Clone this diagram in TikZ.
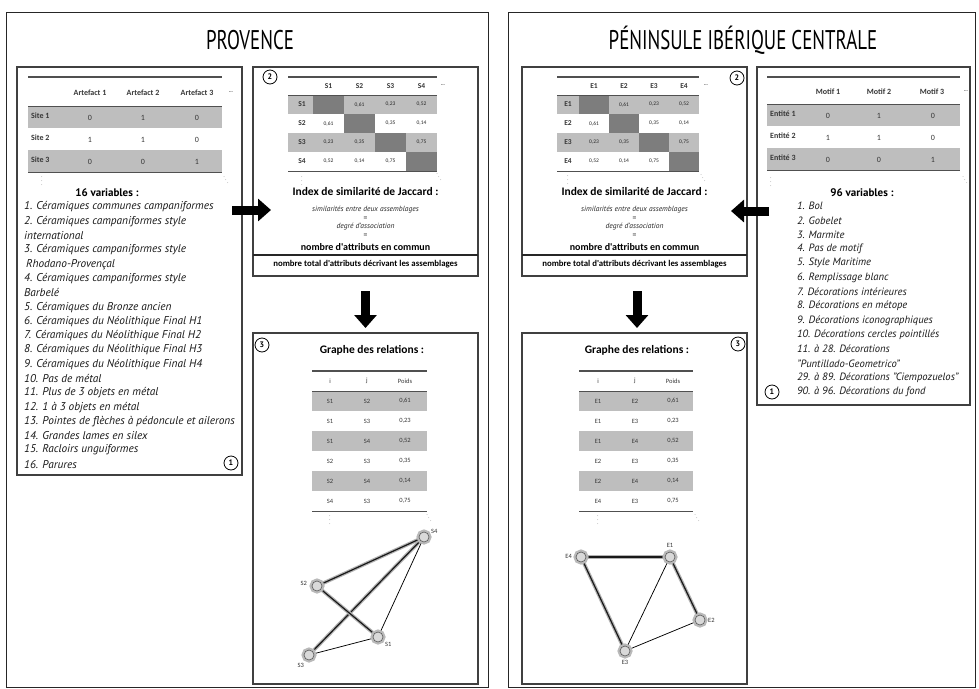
\documentclass[tikz,border=0pt]{standalone}
\usepackage{fontspec}
\usepackage{graphicx}
\setmainfont{PT Sans}
\newfontfamily\calfont{Carlito}
\usetikzlibrary{arrows.meta}
\pgfdeclarelayer{bg}
\pgfsetlayers{bg,main}
\definecolor{rowgray}{RGB}{190,190,190}
\definecolor{cellgray}{RGB}{125,125,125}
\definecolor{txtgray}{RGB}{55,55,55}
\definecolor{rulegray}{RGB}{80,80,80}
\begin{document}
\begin{tikzpicture}[x=1pt,y=-1pt,
  frame/.style={draw=black!85, line width=0.9pt},
  box/.style={draw=black!75, line width=1.3pt},
  num/.style={circle, draw=black, line width=0.8pt, minimum size=14pt, inner sep=0pt, font=\bfseries\fontsize{8}{8}\selectfont},
  title/.style={font=\fontsize{27}{27}\selectfont, inner sep=0pt},
  rulethick/.style={draw=rulegray, line width=1.4pt},
  rulethin/.style={draw=rulegray, line width=0.9pt},
  hdr/.style={font=\calfont\bfseries\fontsize{8}{9}\selectfont, text=txtgray, inner sep=0pt},
  cell/.style={font=\calfont\fontsize{8}{9}\selectfont, text=txtgray, inner sep=0pt},
  mlab/.style={font=\calfont\bfseries\fontsize{7.5}{8}\selectfont, text=txtgray, inner sep=0pt},
  mcell/.style={font=\calfont\fontsize{5.5}{6}\selectfont, text=black!85, inner sep=0pt},
  gcell/.style={font=\calfont\fontsize{6.5}{7}\selectfont, text=txtgray, inner sep=0pt},
  dots/.style={font=\fontsize{5}{5}\selectfont, text=txtgray, inner sep=0pt},
  lstl/.style={anchor=west, font=\itshape\fontsize{11.3}{12}\selectfont, text=black!90, inner sep=0pt},
  lstr/.style={anchor=west, font=\itshape\fontsize{10.6}{12}\selectfont, text=black!90, inner sep=0pt},
  head/.style={font=\bfseries\fontsize{11}{12}\selectfont, inner sep=0pt},
  jac/.style={font=\calfont\bfseries\fontsize{11.5}{12}\selectfont, inner sep=0pt},
  jit/.style={font=\itshape\fontsize{7.5}{8}\selectfont, text=black!85, inner sep=0pt},
  jeq/.style={font=\fontsize{7.5}{8}\selectfont, text=black!85, inner sep=0pt},
  jnum/.style={font=\calfont\bfseries\fontsize{10}{11}\selectfont, inner sep=0pt},
  jden/.style={font=\calfont\bfseries\fontsize{8.8}{10}\selectfont, inner sep=0pt},
  gtitle/.style={font=\calfont\bfseries\fontsize{11.5}{12}\selectfont, inner sep=0pt},
  bigarrow/.style={line width=9pt, -{Triangle[length=13pt,width=22pt]}},
  gnode/.style={circle, minimum size=10pt, inner sep=0pt, fill=gray!30, draw=black!65, line width=0.6pt, preaction={draw=gray!55, line width=5pt}},
  strong/.style={draw=gray!60, line width=3.6pt, postaction={draw=black!90, line width=1.2pt}},
  weak/.style={draw=black, line width=0.75pt},
  glab/.style={font=\calfont\fontsize{6.5}{7}\selectfont, text=black!80, inner sep=1pt}
]
\useasboundingbox (0,0) rectangle (979,688);
\begin{pgfonlayer}{bg}
\fill[white] (0,0) rectangle (979,688);
\end{pgfonlayer}

% ---------- outer frames and titles ----------
\draw[frame] (6,12) rectangle (488,687.5);
\draw[frame] (508,12) rectangle (975,687.5);
\node[title] (t1) at (250,40) {\scalebox{0.7}[1]{PROVENCE}};
\node[title] (t2) at (743,40) {\scalebox{0.7}[1]{PÉNINSULE IBÉRIQUE CENTRALE}};

% ---------- boxes ----------
\draw[box] (17,67) rectangle (242,475);
\draw[box] (253,67) rectangle (478,276);
\draw[box] (253,333) rectangle (478,684);
\draw[box] (522,67) rectangle (747,276);
\draw[box] (522,333) rectangle (747,684);
\draw[box] (757,67) rectangle (970,405);

\node[num] (n1l) at (231,463) {1};
\node[num] (n2l) at (270,77) {2};
\node[num] (n3l) at (262,345) {3};
\node[num] (n2r) at (737,78) {2};
\node[num] (n3r) at (738,344) {3};
\node[num] (n1r) at (772,392) {1};

% ---------- Table 1 left (Artefact) ----------
\fill[rowgray] (28,106) rectangle (222,128);
\fill[rowgray] (28,150) rectangle (222,172);
\draw[rulethick] (28,77) -- (222,77);
\draw[rulethin] (28,106) -- (222,106);
\draw[rulethin] (28,172) -- (222,172);
\node[hdr] (la1) at (90,93) {Artefact 1};
\node[hdr] (la2) at (143,93) {Artefact 2};
\node[hdr] (la3) at (197,93) {Artefact 3};
\node[dots] (lad) at (231,93) {\textbf{···}};
\foreach \lab/\a/\b/\c/\yy [count=\k] in {Site 1/0/1/0/117, Site 2/1/1/0/139, Site 3/0/0/1/161}{
  \node[hdr, anchor=west] (lsl\k) at (31,\yy-1) {\lab};
  \node[cell] (lsa\k) at (90,\yy+1) {\a};
  \node[cell] (lsb\k) at (143,\yy+1) {\b};
  \node[cell] (lsc\k) at (197,\yy+1) {\c};
}
\node[dots] (lvd) at (42,178) {$\vdots$};
\node[dots] (ldd) at (226,177) {$\ddots$};

% ---------- list left ----------
\node[head] (lh) at (107,193) {16 variables :};
\foreach \t [count=\i] in {
 {1. Céramiques communes campaniformes},
 {2. Céramiques campaniformes style},
 {international},
 {3. Céramiques campaniformes style},
 {\hspace*{2pt}Rhodano-Provençal},
 {4. Céramiques campaniformes style},
 {Barbelé},
 {5. Céramiques du Bronze ancien},
 {6. Céramiques du Néolithique Final H1},
 {7. Céramiques du Néolithique Final H2},
 {8. Céramiques du Néolithique Final H3},
 {9. Céramiques du Néolithique Final H4},
 {10. Pas de métal},
 {11. Plus de 3 objets en métal},
 {12. 1 à 3 objets en métal},
 {13. Pointes de flèches à pédoncule et ailerons},
 {14. Grandes lames en silex},
 {15. Racloirs unguiformes},
 {16. Parures}}
 \node[lstl] (ll\i) at (24,{207+14.3*(\i-1)}) {\t};

% ---------- Matrix left ----------
\fill[rowgray] (288,95) rectangle (437,114);
\fill[rowgray] (288,133) rectangle (437,152);
\fill[cellgray] (313,95) rectangle (344,114);
\fill[cellgray] (344,114) rectangle (375,133);
\fill[cellgray] (375,133) rectangle (406,152);
\fill[cellgray] (406,152) rectangle (437,171);
\draw[rulethick] (288,77) -- (437,77);
\draw[rulethin] (288,95) -- (437,95);
\draw[rulethin] (288,171) -- (437,171);
\foreach \t/\cx [count=\k] in {S1/328.5,S2/359.5,S3/390.5,S4/421.5}{
  \node[mlab] (lmh\k) at (\cx,86) {\t};
  \node[mlab] (lmr\k) at (302,{104.5+19*(\k-1)}) {\t};
}
\node[dots] (lmd) at (443,86) {\textbf{···}};
\foreach \cx/\cy/\v [count=\k] in {359.5/104.5/{0,61},390.5/104.5/{0,23},421.5/104.5/{0,52},
 328.5/123.5/{0,61},390.5/123.5/{0,35},421.5/123.5/{0,14},
 328.5/142.5/{0,23},359.5/142.5/{0,35},421.5/142.5/{0,75},
 328.5/161.5/{0,52},359.5/161.5/{0,14},390.5/161.5/{0,75}}
 \node[mcell] (lmv\k) at (\cx,\cy) {\v};
\node[dots] (lmvd) at (302,178) {$\vdots$};
\node[dots] (lmdd) at (439,174) {$\ddots$};

% ---------- Jaccard left ----------
\node[jac] (lj1) at (365.5,192) {Index de similarité de Jaccard :};
\node[jit] (lj2) at (365.5,210) {similarités entre deux assemblages};
\node[jeq] (lj3) at (365.5,219) {=};
\node[jit] (lj4) at (365.5,227) {degré d'association};
\node[jeq] (lj5) at (365.5,236) {=};
\node[jnum] (lj6) at (365.5,247) {nombre d'attributs en commun};
\draw[draw=black!85, line width=1.8pt] (253,255) -- (478,255);
\node[jden] (lj7) at (365.5,264) {nombre total d'attributs décrivant les assemblages};

% ---------- Graph table left ----------
\fill[rowgray] (312,391) rectangle (427,411);
\fill[rowgray] (312,431) rectangle (427,451);
\fill[rowgray] (312,471) rectangle (427,491);
\draw[rulethick] (312,371) -- (427,371);
\draw[rulethin] (312,391) -- (427,391);
\draw[rulethin] (312,511) -- (427,511);
\node[gtitle] (lg) at (372,350) {Graphe des relations :};
\node[gcell] (lgi) at (330,381) {i};
\node[gcell] (lgj) at (367,381) {j};
\node[gcell] (lgp) at (405,381) {Poids};
\foreach \a/\b/\w [count=\k] in {S1/S2/{0,61},S1/S3/{0,23},S1/S4/{0,52},S2/S3/{0,35},S2/S4/{0,14},S4/S3/{0,75}}{
  \node[gcell] (lga\k) at (330,{401+20*(\k-1)}) {\a};
  \node[gcell] (lgb\k) at (367,{401+20*(\k-1)}) {\b};
  \node[gcell] (lgc\k) at (405,{401+20*(\k-1)}) {\w};
}
\node[dots] (lgvd) at (330,517) {$\vdots$};
\node[dots] (lgdd) at (429,515) {$\ddots$};

% ---------- Network left ----------
\node[gnode] (s4) at (424,537) {};
\node[gnode] (s2) at (317,586) {};
\node[gnode] (s1) at (378,637) {};
\node[gnode] (s3) at (309,655) {};
\node[glab, anchor=south west] (ls4) at (430,535) {S4};
\node[glab, anchor=east] (ls2) at (308,583) {S2};
\node[glab, anchor=north west] (ls1) at (384,641) {S1};
\node[glab, anchor=north east] (ls3) at (305,662) {S3};
\begin{pgfonlayer}{bg}
\draw[strong] (s4) -- (s2);
\draw[strong] (s4) -- (s3);
\draw[strong] (s2) -- (s1);
\draw[weak] (s4) -- (s1);
\draw[weak] (s3) -- (s1);
\end{pgfonlayer}

% ---------- Table right (Motif) ----------
\fill[rowgray] (767,104) rectangle (960,126);
\fill[rowgray] (767,148) rectangle (960,170);
\draw[rulethick] (767,77) -- (960,77);
\draw[rulethin] (767,104) -- (960,104);
\draw[rulethin] (767,170) -- (960,170);
\node[hdr] (rm1) at (828,92) {Motif 1};
\node[hdr] (rm2) at (879,92) {Motif 2};
\node[hdr] (rm3) at (932,92) {Motif 3};
\node[dots] (rmd) at (966,92) {\textbf{···}};
\foreach \lab/\a/\b/\c/\yy [count=\k] in {Entité 1/0/1/0/115, Entité 2/1/1/0/137, Entité 3/0/0/1/159}{
  \node[hdr, anchor=west] (rel\k) at (770,\yy-1) {\lab};
  \node[cell] (rea\k) at (828,\yy+1) {\a};
  \node[cell] (reb\k) at (879,\yy+1) {\b};
  \node[cell] (rec\k) at (933,\yy+1) {\c};
}
\node[dots] (rvd) at (771,179) {$\vdots$};
\node[dots] (rdd) at (965,177) {$\ddots$};

% ---------- list right ----------
\node[head] (rh) at (862,193) {96 variables :};
\foreach \t [count=\i] in {
 {1. Bol},
 {2. Gobelet},
 {3. Marmite},
 {4. Pas de motif},
 {5. Style Maritime},
 {6. Remplissage blanc},
 {7. Décorations intérieures},
 {8. Décorations en métope},
 {9. Décorations iconographiques},
 {10. Décorations cercles pointillés},
 {11. à 28. Décorations},
 {"Puntillado-Geometrico"},
 {29. à 89. Décorations "Ciempozuelos"},
 {90. à 96. Décorations du fond}}
 \node[lstr] (rl\i) at (797,{206+14.3*(\i-1)}) {\t};

% ---------- Matrix right ----------
\fill[rowgray] (557,95) rectangle (699,114);
\fill[rowgray] (557,133) rectangle (699,152);
\fill[cellgray] (579,95) rectangle (609,114);
\fill[cellgray] (609,114) rectangle (639,133);
\fill[cellgray] (639,133) rectangle (669,152);
\fill[cellgray] (669,152) rectangle (699,171);
\draw[rulethick] (557,77) -- (699,77);
\draw[rulethin] (557,95) -- (699,95);
\draw[rulethin] (557,171) -- (699,171);
\foreach \t/\cx [count=\k] in {E1/594,E2/624,E3/654,E4/684}{
  \node[mlab] (rmh\k) at (\cx,86) {\t};
  \node[mlab] (rmr\k) at (568,{104.5+19*(\k-1)}) {\t};
}
\node[dots] (rmdd0) at (706,86) {\textbf{···}};
\foreach \cx/\cy/\v [count=\k] in {624/104.5/{0,61},654/104.5/{0,23},684/104.5/{0,52},
 594/123.5/{0,61},654/123.5/{0,35},684/123.5/{0,14},
 594/142.5/{0,23},624/142.5/{0,35},684/142.5/{0,75},
 594/161.5/{0,52},624/161.5/{0,14},654/161.5/{0,75}}
 \node[mcell] (rmv\k) at (\cx,\cy) {\v};
\node[dots] (rmvd) at (568,177) {$\vdots$};
\node[dots] (rmdd) at (703,175) {$\ddots$};

% ---------- Jaccard right ----------
\node[jac] (rj1) at (634.5,192) {Index de similarité de Jaccard :};
\node[jit] (rj2) at (634.5,210) {similarités entre deux assemblages};
\node[jeq] (rj3) at (634.5,219) {=};
\node[jit] (rj4) at (634.5,227) {degré d'association};
\node[jeq] (rj5) at (634.5,236) {=};
\node[jnum] (rj6) at (634.5,247) {nombre d'attributs en commun};
\draw[draw=black!85, line width=1.8pt] (522,255) -- (747,255);
\node[jden] (rj7) at (634.5,264) {nombre total d'attributs décrivant les assemblages};

% ---------- Graph table right ----------
\fill[rowgray] (579,391) rectangle (693,411);
\fill[rowgray] (579,431) rectangle (693,451);
\fill[rowgray] (579,471) rectangle (693,491);
\draw[rulethick] (579,371) -- (693,371);
\draw[rulethin] (579,391) -- (693,391);
\draw[rulethin] (579,511) -- (693,511);
\node[gtitle] (rg) at (637,350) {Graphe des relations :};
\node[gcell] (rgi) at (598,381) {i};
\node[gcell] (rgj) at (635,381) {j};
\node[gcell] (rgp) at (673,381) {Poids};
\foreach \a/\b/\w [count=\k] in {E1/E2/{0,61},E1/E3/{0,23},E1/E4/{0,52},E2/E3/{0,35},E2/E4/{0,14},E4/E3/{0,75}}{
  \node[gcell] (rga\k) at (598,{401+20*(\k-1)}) {\a};
  \node[gcell] (rgb\k) at (635,{401+20*(\k-1)}) {\b};
  \node[gcell] (rgc\k) at (673,{401+20*(\k-1)}) {\w};
}
\node[dots] (rgvd) at (598,517) {$\vdots$};
\node[dots] (rgdd) at (697,515) {$\ddots$};

% ---------- Network right ----------
\node[gnode] (e4) at (581,557) {};
\node[gnode] (e1) at (670,557) {};
\node[gnode] (e2) at (700,620) {};
\node[gnode] (e3) at (625,651) {};
\node[glab, anchor=east] (le4) at (573,556) {E4};
\node[glab, anchor=south] (le1) at (670,549) {E1};
\node[glab, anchor=west] (le2) at (707,620) {E2};
\node[glab, anchor=north] (le3) at (625,659) {E3};
\begin{pgfonlayer}{bg}
\draw[strong] (e4) -- (e1);
\draw[strong] (e1) -- (e2);
\draw[strong] (e4) -- (e3);
\draw[weak] (e1) -- (e3);
\draw[weak] (e3) -- (e2);
\end{pgfonlayer}

% ---------- big arrows ----------
\coordinate (ha1) at (232,210);
\coordinate (ha2) at (271,210);
\coordinate (hb1) at (769,211);
\coordinate (hb2) at (731,211);
\coordinate (va1) at (365.5,291);
\coordinate (va2) at (365.5,328);
\coordinate (vb1) at (637,291);
\coordinate (vb2) at (637,328);
\draw[bigarrow] (ha1) -- (ha2);
\draw[bigarrow] (hb1) -- (hb2);
\draw[bigarrow] (va1) -- (va2);
\draw[bigarrow] (vb1) -- (vb2);
\end{tikzpicture}
\end{document}
